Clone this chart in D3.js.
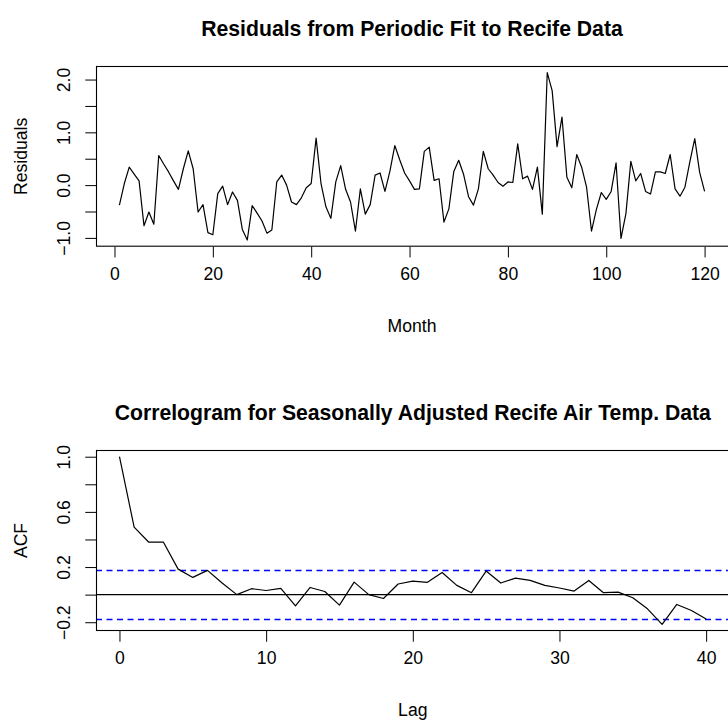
<!DOCTYPE html>
<html>
<head>
<meta charset="utf-8">
<script src="https://cdn.jsdelivr.net/npm/d3@7"></script>
<style>
  body { margin: 0; background: #fff; }
  svg { display: block; font-family: "Liberation Sans", Arial, Helvetica, sans-serif; }
  .axis text { font-size: 17.6px; fill: #000; }
  .axis line { stroke: #000; }
  .lab { font-size: 17.6px; fill: #000; }
  .main { font-size: 21.2px; font-weight: bold; fill: #000; }
</style>
</head>
<body>
<svg width="728" height="724"></svg>
<script>
// residuals from the periodic fit, months 1..120
const residuals = [
  -0.38, 0.03, 0.34, 0.21, 0.08, -0.77, -0.51, -0.74, 0.56, 0.40,
  0.25, 0.08, -0.08, 0.31, 0.65, 0.31, -0.51, -0.37, -0.90, -0.94,
  -0.16, -0.02, -0.37, -0.13, -0.29, -0.84, -1.04, -0.39, -0.53, -0.68,
  -0.91, -0.85, 0.06, 0.19, 0.00, -0.32, -0.37, -0.24, -0.05, 0.03,
  0.89, 0.03, -0.41, -0.63, 0.06, 0.37, -0.08, -0.32, -0.87, -0.07,
  -0.55, -0.37, 0.19, 0.23, -0.12, 0.26, 0.75, 0.48, 0.23, 0.08,
  -0.08, -0.07, 0.64, 0.72, 0.09, 0.12, -0.70, -0.45, 0.26, 0.47,
  0.20, -0.22, -0.38, -0.07, 0.64, 0.31, 0.19, 0.05, -0.02, 0.06,
  0.05, 0.78, 0.12, 0.17, -0.08, 0.34, -0.55, 2.13, 1.79, 0.73,
  1.29, 0.15, -0.05, 0.58, 0.34, -0.04, -0.87, -0.46, -0.14, -0.27,
  -0.12, 0.42, -1.01, -0.54, 0.45, 0.08, 0.22, -0.12, -0.17, 0.25,
  0.25, 0.22, 0.58, -0.07, -0.21, -0.04, 0.44, 0.88, 0.24, -0.12
];
const months = residuals.map((d, i) => i + 1);

// sample autocorrelations, lags 0..40
const acfValues = [
  1.0, 0.49, 0.38, 0.38, 0.185, 0.125, 0.176, 0.084, 0.0, 0.043,
  0.03, 0.045, -0.081, 0.052, 0.023, -0.076, 0.091, 0.0, -0.028, 0.077,
  0.098, 0.089, 0.16, 0.067, 0.014, 0.171, 0.084, 0.12, 0.103, 0.067,
  0.048, 0.026, 0.103, 0.014, 0.018, -0.023, -0.103, -0.215, -0.071, -0.115,
  -0.176
];
const lags = acfValues.map((d, i) => i);
const nObs = 120;

const monthTicks = [0, 20, 40, 60, 80, 100, 120];
const residTicks = [-1.0, -0.5, 0.0, 0.5, 1.0, 1.5, 2.0];
const residLabels = [-1.0, 0.0, 1.0, 2.0];
const lagTicks = [0, 10, 20, 30, 40];
const acfTicks = [-0.2, 0.0, 0.2, 0.4, 0.6, 0.8, 1.0];
const acfLabels = [-0.2, 0.2, 0.6, 1.0];

const svg = d3.select("svg");
const lineH = 21.5;      // one margin line in px
const tickLen = lineH / 2;
const fmt = d3.format(".1f");

// R style 4% padding on a range
function pad(ext) {
  const p = (ext[1] - ext[0]) * 0.04;
  return [ext[0] - p, ext[1] + p];
}

function panel(opt) {
  const g = svg.append("g");
  const x = d3.scaleLinear().domain(pad(opt.xExt)).range([opt.left, opt.right]);
  const y = d3.scaleLinear().domain(pad(opt.yExt)).range([opt.bottom, opt.top]);

  // extra lines under the series
  if (opt.under) opt.under(g, x, y);

  g.append("path")
    .datum(opt.xs.map((v, i) => [v, opt.ys[i]]))
    .attr("fill", "none")
    .attr("stroke", "#000")
    .attr("stroke-width", 1.2)
    .attr("stroke-linejoin", "round")
    .attr("d", d3.line().x(d => x(d[0])).y(d => y(d[1])));

  // box
  g.append("rect")
    .attr("x", opt.left + 0.5).attr("y", opt.top + 0.5)
    .attr("width", opt.right - opt.left + 4).attr("height", opt.bottom - opt.top - 1)
    .attr("fill", "none").attr("stroke", "#000").attr("stroke-width", 1.1);

  // x axis
  const xa = g.append("g").attr("class", "axis")
    .attr("transform", `translate(0,${opt.bottom})`)
    .call(d3.axisBottom(x).tickValues(opt.xTicks).tickSize(tickLen).tickSizeOuter(0).tickFormat(d3.format("d")));
  xa.select(".domain").remove();
  xa.selectAll("text").attr("y", lineH * 1.55).attr("dy", 0)
    .attr("font-family", null).attr("font-size", null);

  // y axis
  const ya = g.append("g").attr("class", "axis")
    .attr("transform", `translate(${opt.left},0)`)
    .call(d3.axisLeft(y).tickValues(opt.yTicks).tickSize(tickLen).tickSizeOuter(0)
      .tickFormat(d => opt.yLabels.some(v => Math.abs(v - d) < 1e-9) ? fmt(d) : ""));
  ya.select(".domain").remove();
  ya.selectAll("text")
    .attr("x", 0).attr("y", -lineH * 1.2).attr("dy", 0)
    .attr("transform", "rotate(-90)")
    .attr("text-anchor", "middle")
    .attr("font-family", null).attr("font-size", null);

  // labels and title
  const cx = (opt.left + opt.right) / 2;
  g.append("text").attr("class", "lab")
    .attr("x", cx).attr("y", opt.bottom + lineH * 3.95)
    .attr("text-anchor", "middle").text(opt.xLab);
  g.append("text").attr("class", "lab")
    .attr("transform", `translate(${opt.left - lineH * 3.2},${(opt.top + opt.bottom) / 2}) rotate(-90)`)
    .attr("text-anchor", "middle").text(opt.yLab);
  g.append("text").attr("class", "main")
    .attr("x", cx).attr("y", opt.top - lineH * 1.4)
    .attr("text-anchor", "middle").text(opt.title);
}

panel({
  left: 96, right: 728, top: 66, bottom: 246.7,
  xs: months, ys: residuals,
  xExt: d3.extent(months), yExt: d3.extent(residuals),
  xTicks: monthTicks, yTicks: residTicks, yLabels: residLabels,
  xLab: "Month", yLab: "Residuals",
  title: "Residuals from Periodic Fit to Recife Data"
});

const clim = 1.959964 / Math.sqrt(nObs);
panel({
  left: 96, right: 729.6, top: 450, bottom: 631,
  xs: lags, ys: acfValues,
  xExt: d3.extent(lags), yExt: d3.extent(acfValues.concat([-clim, clim])),
  xTicks: lagTicks, yTicks: acfTicks, yLabels: acfLabels,
  xLab: "Lag", yLab: "ACF",
  title: "Correlogram for Seasonally Adjusted Recife Air Temp. Data",
  under: (g, x, y) => {
    const [x0, x1] = x.range();
    g.append("line")
      .attr("x1", x0).attr("x2", x1 + 5).attr("y1", y(0)).attr("y2", y(0))
      .attr("stroke", "#000").attr("stroke-width", 1.1);
    [clim, -clim].forEach(c => {
      const yy = Math.round(y(c)) + 0.5;
      g.append("line")
        .attr("x1", x0).attr("x2", x1 + 5).attr("y1", yy).attr("y2", yy)
        .attr("stroke", "#0000ff").attr("stroke-width", 1.3)
        .attr("stroke-dasharray", "6,4.5");
    });
  }
});
</script>
</body>
</html>
